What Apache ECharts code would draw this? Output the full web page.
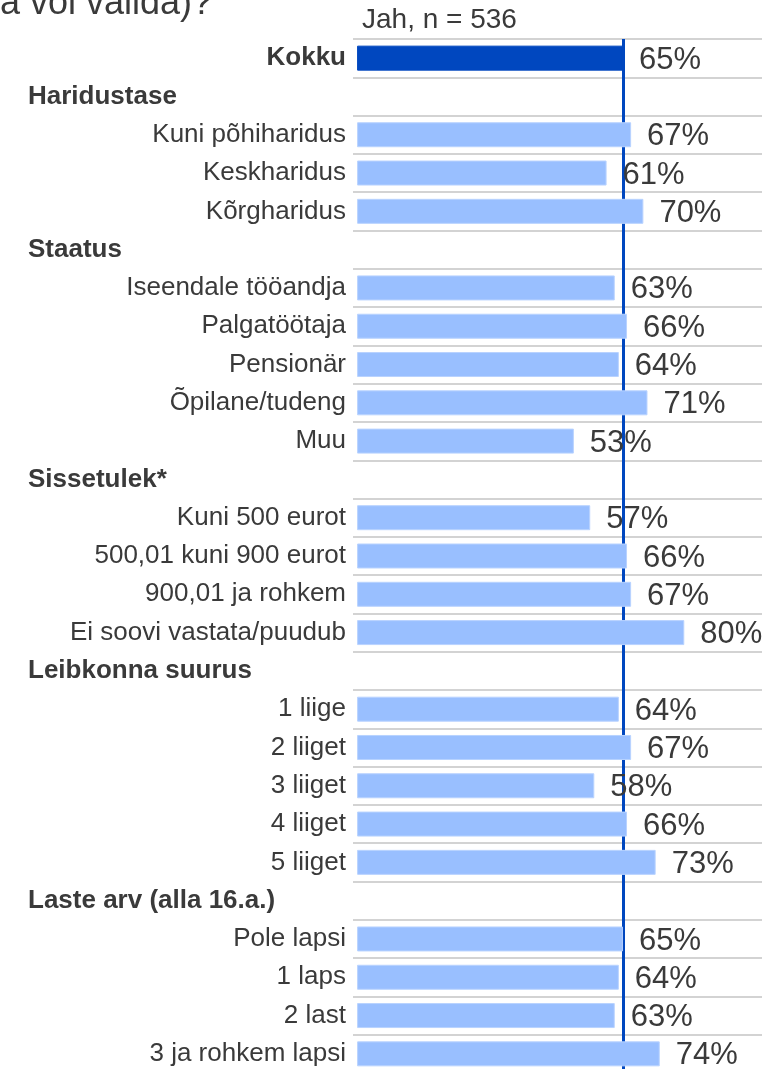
<!DOCTYPE html>
<html>
<head>
<meta charset="utf-8">
<script src="https://cdn.jsdelivr.net/npm/echarts@6/dist/echarts.min.js"></script>
<style>
	html, body { margin: 0; padding: 0; background: #fff; overflow: hidden; }
	#chart { width: 762px; height: 1076px; }
</style>
</head>
<body>
<div id="chart"></div>
<script>
// top to bottom
var categories = ['Kokku', 'Haridustase', 'Kuni põhiharidus', 'Keskharidus', 'Kõrgharidus',
	'Staatus', 'Iseendale tööandja', 'Palgatöötaja', 'Pensionär', 'Õpilane/tudeng', 'Muu',
	'Sissetulek*', 'Kuni 500 eurot', '500,01 kuni 900 eurot', '900,01 ja rohkem', 'Ei soovi vastata/puudub',
	'Leibkonna suurus', '1 liige', '2 liiget', '3 liiget', '4 liiget', '5 liiget',
	'Laste arv (alla 16.a.)', 'Pole lapsi', '1 laps', '2 last', '3 ja rohkem lapsi'];
var values = [65, null, 67, 61, 70,
	null, 63, 66, 64, 71, 53,
	null, 57, 66, 67, 80,
	null, 64, 67, 58, 66, 73,
	null, 65, 64, 63, 74];
var groupHeaders = ['Haridustase', 'Staatus', 'Sissetulek*', 'Leibkonna suurus', 'Laste arv (alla 16.a.)'];
var totalLabel = 'Kokku';
var averageValue = 65;
var sampleText = 'Jah, n = 536';
var questionTail = 'a või valida)?';

var font = "'Liberation Sans', Arial, sans-serif";
var textColor = '#3a3a3a';

function isHeader(name){
	return groupHeaders.indexOf(name) != -1;
}

var barData = [];
for(var i = 0; i < values.length; i++){
	if(categories[i] == totalLabel){
		barData.push({ value: values[i], itemStyle: { color: '#0047BF', borderColor: '#0047BF' } });
	}else{
		barData.push(values[i] == null ? '-' : values[i]);
	}
}

var myChart = echarts.init(document.getElementById('chart'));
myChart.setOption({
	animation: false,
	textStyle: { fontFamily: font },
	title: [
		{ text: questionTail, left: 0, top: -14, padding: 0,
			textStyle: { fontSize: 36, fontWeight: 'normal', color: textColor, fontFamily: font } },
		{ text: sampleText, left: 362, top: 6, padding: 0,
			textStyle: { fontSize: 28, fontWeight: 'normal', color: textColor, fontFamily: font } }
	],
	// chart box is a little taller than the window so the last row runs off the bottom
	grid: { left: 353, right: 0, top: 39, bottom: 3, containLabel: false },
	xAxis: {
		type: 'value', min: -1, max: 99, show: false,
		splitLine: { show: false }
	},
	yAxis: [
		{
			type: 'category', inverse: true, data: categories,
			axisLine: { show: false }, axisTick: { show: false },
			splitLine: { show: true, lineStyle: { color: '#C4C4C4', width: 1.5 } },
			axisLabel: {
				margin: 7, fontSize: 26, color: textColor, fontFamily: font,
				formatter: function(v){
					if(isHeader(v)) return '';
					if(v == totalLabel) return '{b|' + v + '}';
					return v;
				},
				rich: { b: { fontSize: 26, fontWeight: 'bold', color: textColor, fontFamily: font } }
			}
		},
		{
			type: 'category', inverse: true, data: categories, position: 'left',
			axisLine: { show: false }, axisTick: { show: false }, splitLine: { show: false },
			axisLabel: {
				margin: 325, align: 'left', fontSize: 26, fontWeight: 'bold', color: textColor, fontFamily: font,
				formatter: function(v){
					return isHeader(v) ? v : '';
				}
			}
		}
	],
	series: [{
		type: 'bar',
		data: barData,
		barWidth: 25,
		itemStyle: { color: '#99BFFF', borderColor: '#B9D3FF', borderWidth: 1 },
		label: {
			show: true, position: 'right', distance: 16, offset: [0, 2],
			fontSize: 31, color: textColor, fontFamily: font,
			formatter: '{c}%'
		},
		markLine: {
			silent: true, symbol: 'none', z: 1,
			label: { show: false },
			lineStyle: { color: '#0047BF', width: 3, type: 'solid' },
			data: [{ xAxis: averageValue }]
		}
	}]
});
</script>
</body>
</html>
